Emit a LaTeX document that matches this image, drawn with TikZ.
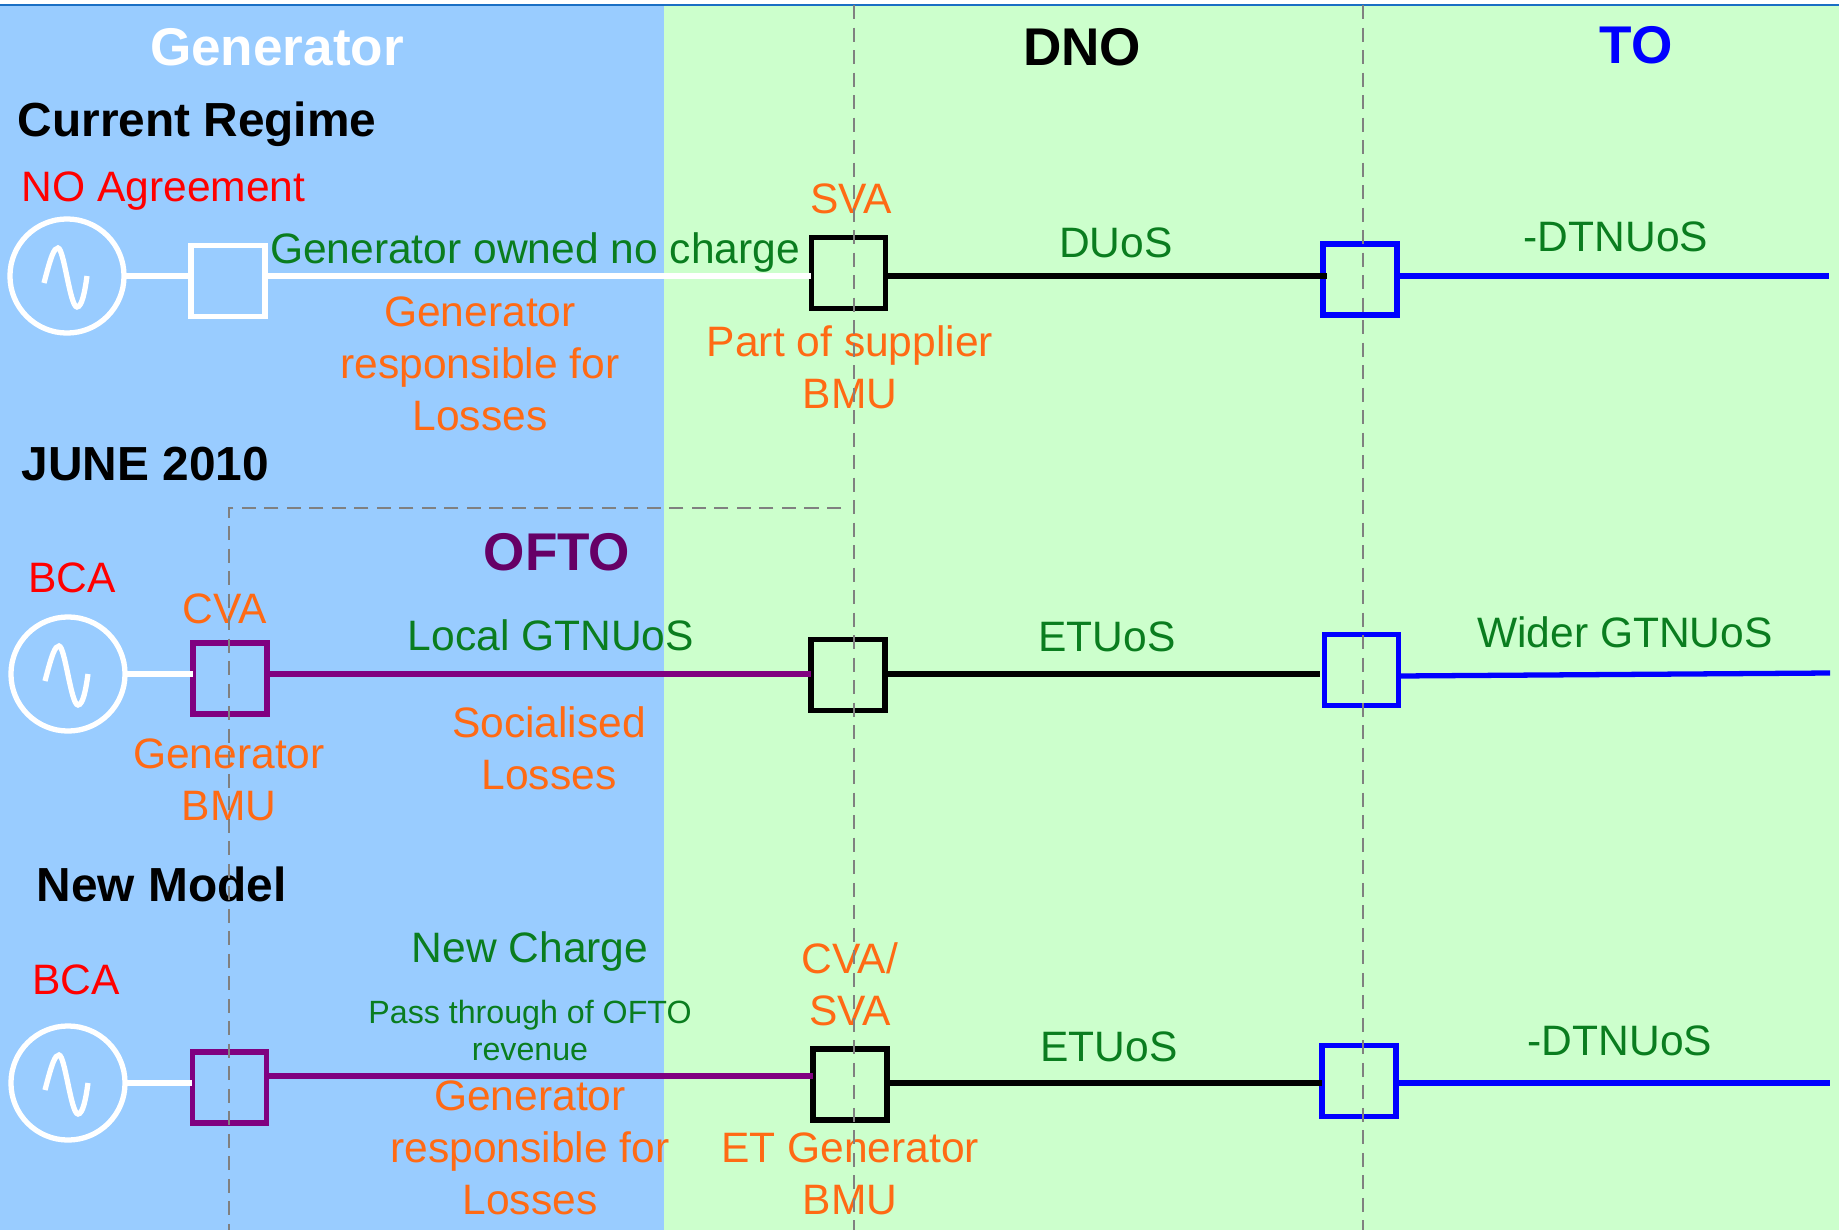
\documentclass[tikz,border=0pt]{standalone}
\usepackage{fontspec}
\setmainfont{Liberation Sans}
\definecolor{genblue}{HTML}{99CCFF}
\definecolor{netgreen}{HTML}{CCFFCC}
\definecolor{topline}{HTML}{1A6FC4}
\definecolor{chargegreen}{HTML}{0A7D1F}
\definecolor{noteorange}{HTML}{FF6A14}
\definecolor{oftopurple}{HTML}{800080}
\definecolor{oftotitle}{HTML}{660066}
\tikzset{
  title/.style={font=\fontsize{15.1}{18}\selectfont\bfseries,anchor=base,inner sep=0pt},
  regime/.style={font=\fontsize{13.6}{16}\selectfont\bfseries,anchor=base west,inner sep=0pt},
  charge/.style={font=\fontsize{12.1}{14.7}\selectfont,text=chargegreen,anchor=base,inner sep=0pt,align=center},
  note/.style={font=\fontsize{12.1}{14.7}\selectfont,text=noteorange,anchor=base,inner sep=0pt,align=center},
  agreement/.style={font=\fontsize{12.1}{14.7}\selectfont,text=red,inner sep=0pt},
  gen/.style={draw=white,line width=1.5pt,shape=circle,minimum size=1.14cm,inner sep=0pt,outer sep=0pt},
  bay/.style={draw=#1,line width=1.6pt,minimum width=0.74cm,minimum height=0.71cm,inner sep=0pt,outer sep=0pt},
  wire/.style={draw=#1,line width=1.5pt},
  boundary/.style={gray,line width=0.45pt,dash pattern=on 4pt off 2.4pt}
}
\newcommand{\sinewave}[1]{\draw[white,line width=1.5pt,shift={(#1)}] (-23,7) .. controls (-16,-20) and (-13,-28) .. (-9,-28) .. controls (-3,-28) and (3,31) .. (10,31) .. controls (15,31) and (18,15) .. (20,0);}
\begin{document}
\begin{tikzpicture}[x=0.01cm,y=-0.01cm]
  \useasboundingbox (0,0) rectangle (1839,1230);
  \fill[genblue] (0,5) rectangle (664,1230);
  \fill[netgreen] (664,5) rectangle (1839,1230);
  \draw[topline,line width=0.5pt] (0,5) -- (1839,5);

  \node[title,text=white] (generatorhead) at (277,65) {Generator};
  \node[title] (dnohead) at (1082,65) {DNO};
  \node[title,text=blue] (tohead) at (1636,64) {TO};

  \node[gen] (gen1) at (67,276) {};
  \node[bay=white] (bayA1) at (228,281) {};
  \node[bay=black] (bayB1) at (848.5,273) {};
  \node[bay=blue] (bayC1) at (1360,279.5) {};
  \coordinate (end1) at (1829,276);
  \sinewave{gen1}
  \draw[wire=white] (gen1.east) -- (gen1.east -| bayA1.west);
  \draw[wire=white] (gen1.east -| bayA1.east) -- (gen1.east -| bayB1.west);
  \draw[wire=black] (gen1.east -| bayB1.east) -- (gen1.east -| 1327,0);
  \draw[wire=blue] (gen1.east -| bayC1.east) -- (end1);

  \node[gen] (gen2) at (68,674) {};
  \node[bay=oftopurple] (bayA2) at (230,678.5) {};
  \node[bay=black] (bayB2) at (848,675) {};
  \node[bay=blue] (bayC2) at (1361.5,670) {};
  \coordinate (end2) at (1830,673);
  \sinewave{gen2}
  \draw[wire=white] (gen2.east) -- (gen2.east -| bayA2.west);
  \draw[wire=oftopurple] (gen2.east -| bayA2.east) -- (gen2.east -| bayB2.west);
  \draw[wire=black] (gen2.east -| bayB2.east) -- (gen2.east -| 1320,0);
  \draw[wire=blue] (bayC2.east |- 0,676) -- (end2);

  \node[gen] (gen3) at (68,1083) {};
  \node[bay=oftopurple] (bayA3) at (229.5,1087.5) {};
  \node[bay=black] (bayB3) at (850,1084.5) {};
  \node[bay=blue] (bayC3) at (1359,1081) {};
  \coordinate (tap3) at (0,1076);
  \coordinate (end3) at (1830,1083);
  \sinewave{gen3}
  \draw[wire=white] (gen3.east) -- (gen3.east -| bayA3.west);
  \draw[wire=oftopurple] (tap3 -| bayA3.east) -- (tap3 -| bayB3.west);
  \draw[wire=black] (gen3.east -| bayB3.east) -- (gen3.east -| bayC3.west);
  \draw[wire=blue] (gen3.east -| bayC3.east) -- (end3);

  \node[regime] (regime1) at (17,136) {Current Regime};
  \node[agreement,anchor=base west] (agree1) at (21,201) {NO Agreement};
  \node[charge] (charge1) at (535,263) {Generator owned no charge};
  \node[note] (sva1) at (851,213) {SVA};
  \node[charge] (duos1) at (1116,257) {DUoS};
  \node[charge] (dtnuos1) at (1616,251) {-DTNUoS};
  \node[note] (loss1) at (480,430) {Generator\\responsible for\\Losses};
  \node[note] (bmu1) at (850,408) {Part of supplier\\BMU};

  \node[regime] (regime2) at (21,480) {JUNE 2010};
  \node[title,text=oftotitle] (oftohead) at (557,570) {OFTO};
  \node[agreement,anchor=base] (agree2) at (72,592) {BCA};
  \node[note] (cva2) at (225,623) {CVA};
  \node[charge] (charge2) at (551,650) {Local GTNUoS};
  \node[charge] (etuos2) at (1107,651) {ETUoS};
  \node[charge] (gtnuos2) at (1625,647) {Wider GTNUoS};
  \node[note] (loss2) at (549,789) {Socialised\\Losses};
  \node[note] (bmu2) at (229,820) {Generator\\BMU};

  \node[regime] (regime3) at (36,901) {New Model};
  \node[charge] (charge3) at (530,962) {New Charge};
  \node[agreement,anchor=base] (agree3) at (76,994) {BCA};
  \node[charge,font=\fontsize{9.15}{10.5}\selectfont] (pass3) at (530,1060) {Pass through of OFTO\\revenue};
  \node[note] (cva3) at (850,1025) {CVA/\\SVA};
  \node[note] (loss3) at (530,1214) {Generator\\responsible for\\Losses};
  \node[note] (bmu3) at (850,1214) {ET Generator\\BMU};
  \node[charge] (etuos3) at (1109,1061) {ETUoS};
  \node[charge] (dtnuos3) at (1620,1055) {-DTNUoS};

  \draw[boundary] (854,5) -- (854,1230);
  \draw[boundary] (1363,5) -- (1363,1230);
  \draw[boundary] (841,508) -- (229,508) -- (229,1230);
\end{tikzpicture}
\end{document}
